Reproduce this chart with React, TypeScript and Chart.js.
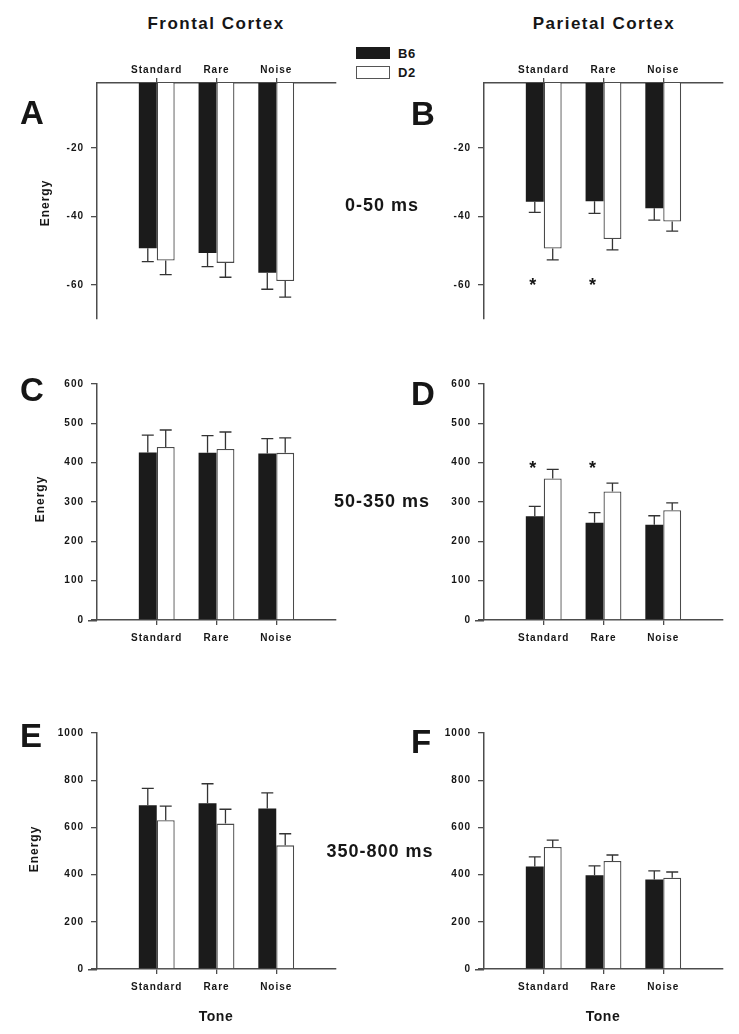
import React, { useEffect, useRef } from 'react';
import { Chart, registerables } from 'chart.js';

Chart.register(...registerables);

// ---------- data ----------
const categories = ['Standard', 'Rare', 'Noise'];
const seriesNames = ['B6', 'D2'];

// A: Frontal Cortex, 0-50 ms
const frontalEarlyB6 = [-49.3, -50.7, -56.5];
const frontalEarlyB6Err = [3.9, 4.0, 4.8];
const frontalEarlyD2 = [-52.9, -53.6, -58.9];
const frontalEarlyD2Err = [4.1, 4.2, 4.7];

// B: Parietal Cortex, 0-50 ms
const parietalEarlyB6 = [-35.7, -35.6, -37.6];
const parietalEarlyB6Err = [3.1, 3.5, 3.5];
const parietalEarlyD2 = [-49.4, -46.6, -41.5];
const parietalEarlyD2Err = [3.3, 3.2, 2.8];

// C: Frontal Cortex, 50-350 ms
const frontalMidB6 = [426, 425, 423];
const frontalMidB6Err = [44, 44, 38];
const frontalMidD2 = [440, 435, 425];
const frontalMidD2Err = [43, 43, 38];

// D: Parietal Cortex, 50-350 ms
const parietalMidB6 = [264, 247, 242];
const parietalMidB6Err = [25, 26, 23];
const parietalMidD2 = [360, 327, 279];
const parietalMidD2Err = [23, 21, 19];

// E: Frontal Cortex, 350-800 ms
const frontalLateB6 = [694, 702, 680];
const frontalLateB6Err = [71, 83, 66];
const frontalLateD2 = [630, 616, 524];
const frontalLateD2Err = [60, 61, 49];

// F: Parietal Cortex, 350-800 ms
const parietalLateB6 = [434, 397, 379];
const parietalLateB6Err = [41, 40, 37];
const parietalLateD2 = [517, 458, 387];
const parietalLateD2Err = [29, 25, 24];

const ticksEarly = [-60, -40, -20];
const ticksMid = [0, 100, 200, 300, 400, 500, 600];
const ticksLate = [0, 200, 400, 600, 800, 1000];

const starsB = [true, true, false];
const starLevelB = -59;
const starsD = [true, true, false];
const starLevelD = 396;

// ---------- styles ----------
const FONT = '"Liberation Sans", Arial, sans-serif';
const AXIS = '#4d4d4d';
const TEXT = '#161616';
const BLACK = '#1b1b1b';

const panelPlugin = {
  id: 'panelExtras',
  beforeDraw(chart: any) {
    (chart.ctx as any).letterSpacing = '1px';
  },
  afterDatasetsDraw(chart: any, _args: any, opts: any) {
    const ctx = chart.ctx;
    const ys = chart.scales.y;
    ctx.save();
    ctx.strokeStyle = '#333';
    ctx.lineWidth = 1.3;
    (opts.errors || []).forEach((errs: any[], di: number) => {
      const meta = chart.getDatasetMeta(di);
      const vals = chart.data.datasets[di].data;
      meta.data.forEach((el: any, i: number) => {
        const v = vals[i];
        const e = errs[i];
        if (v == null || e == null) return;
        const dir = v < 0 ? -1 : 1;
        const y1 = ys.getPixelForValue(v);
        const y2 = ys.getPixelForValue(v + dir * e);
        ctx.beginPath();
        ctx.moveTo(el.x, y1);
        ctx.lineTo(el.x, y2);
        ctx.moveTo(el.x - 6, y2);
        ctx.lineTo(el.x + 6, y2);
        ctx.stroke();
      });
    });
    if (opts.stars) {
      const meta = chart.getDatasetMeta(0);
      ctx.fillStyle = TEXT;
      ctx.font = `bold 18px ${FONT}`;
      ctx.textAlign = 'center';
      ctx.textBaseline = 'alphabetic';
      (ctx as any).letterSpacing = '0px';
      opts.stars.forEach((s: any, i: number) => {
        if (!s) return;
        const el = meta.data[i + 1];
        if (!el) return;
        ctx.fillText('*', el.x - 2, ys.getPixelForValue(opts.starLevel) + 10);
      });
    }
    ctx.restore();
  },
  afterDraw(chart: any, _args: any, opts: any) {
    if (!opts.extendAxis) return;
    const ctx = chart.ctx;
    const a = chart.chartArea;
    ctx.save();
    ctx.strokeStyle = AXIS;
    ctx.lineWidth = 1.5;
    ctx.beginPath();
    ctx.moveTo(a.left - 9, a.bottom + 0.75);
    ctx.lineTo(a.left, a.bottom + 0.75);
    ctx.stroke();
    ctx.restore();
  },
};

type PanelProps = {
  b6: number[];
  b6Err: number[];
  d2: number[];
  d2Err: number[];
  min: number;
  max: number;
  ticks: number[];
  axisTop: boolean;
  stars?: boolean[];
  starLevel?: number;
  left: number;
  top: number;
};

const YW = 60;
const XH = 30;
const AREA_W = 239;
const AREA_H = 239;

function Panel(p: PanelProps) {
  const ref = useRef<HTMLCanvasElement | null>(null);
  const padTop = p.axisTop ? 5 : 10;
  const w = YW + AREA_W + 12;
  const h = padTop + XH + AREA_H + 10;

  useEffect(() => {
    if (!ref.current) return;
    const pad = (arr: number[]) => [null, ...arr, null];
    const font = { family: FONT, size: 10, weight: 'bold' as const };
    const chart = new Chart(ref.current, {
      type: 'bar',
      data: {
        labels: ['', ...categories, ''],
        datasets: [
          {
            label: seriesNames[0],
            data: pad(p.b6) as any,
            backgroundColor: BLACK,
            borderColor: BLACK,
            borderWidth: 0,
            categoryPercentage: 0.6,
            barPercentage: 1,
          },
          {
            label: seriesNames[1],
            data: pad(p.d2) as any,
            backgroundColor: '#ffffff',
            borderColor: '#4a4a4a',
            borderWidth: 1.3,
            categoryPercentage: 0.6,
            barPercentage: 1,
          },
        ],
      },
      options: {
        animation: false,
        responsive: false,
        maintainAspectRatio: false,
        devicePixelRatio: 1,
        layout: { padding: { left: 0, right: 12, top: padTop, bottom: 10 } },
        plugins: {
          legend: { display: false },
          tooltip: { enabled: false },
          panelExtras: {
            errors: [pad(p.b6Err), pad(p.d2Err)],
            stars: p.stars,
            starLevel: p.starLevel,
            extendAxis: !p.axisTop,
          },
        } as any,
        scales: {
          x: {
            type: 'category',
            position: p.axisTop ? 'top' : 'bottom',
            offset: false,
            z: 1,
            grid: {
              offset: false,
              drawOnChartArea: false,
              drawTicks: true,
              tickLength: 5,
              lineWidth: 1.3,
              color: (c: any) => (c.index === 0 || c.index === 4 ? 'rgba(0,0,0,0)' : AXIS),
            },
            border: { display: true, color: AXIS, width: 1.5 },
            ticks: {
              autoSkip: false,
              maxRotation: 0,
              minRotation: 0,
              padding: p.axisTop ? 2 : 7.5,
              color: TEXT,
              font,
            },
            afterFit: (s: any) => {
              s.height = XH;
            },
          },
          y: {
            type: 'linear',
            min: p.min,
            max: p.max,
            afterBuildTicks: (s: any) => {
              s.ticks = p.ticks.map((v) => ({ value: v }));
            },
            grid: {
              drawOnChartArea: false,
              drawTicks: true,
              tickLength: 6,
              lineWidth: 1.3,
              color: AXIS,
            },
            border: { display: true, color: AXIS, width: 1.5 },
            ticks: {
              padding: 7,
              color: TEXT,
              font,
              callback: (v: any) => String(v),
            },
            afterFit: (s: any) => {
              s.width = YW;
            },
          },
        } as any,
      },
      plugins: [panelPlugin],
    });
    return () => chart.destroy();
  }, []);

  return (
    <canvas
      ref={ref}
      width={w}
      height={h}
      style={{ position: 'absolute', left: p.left - YW, top: p.top - padTop - (p.axisTop ? XH : 0), width: w, height: h }}
    />
  );
}

function T(props: { x: number; y: number; size: number; text: string; spacing?: number; rotate?: boolean }) {
  const { x, y, size, text, spacing = 0, rotate = false } = props;
  return (
    <div
      style={{
        position: 'absolute',
        left: x,
        top: y,
        transform: `translate(-50%, -50%)${rotate ? ' rotate(-90deg)' : ''}`,
        font: `bold ${size}px ${FONT}`,
        letterSpacing: spacing,
        whiteSpace: 'nowrap',
        lineHeight: 1,
        color: TEXT,
      }}
    >
      {text}
    </div>
  );
}

export default function App() {
  return (
    <div
      style={{
        position: 'absolute',
        left: 0,
        top: 0,
        width: 739,
        height: 1034,
        background: '#fff',
        overflow: 'hidden',
      }}
    >
      <Panel b6={frontalEarlyB6} b6Err={frontalEarlyB6Err} d2={frontalEarlyD2} d2Err={frontalEarlyD2Err}
        min={-70} max={-1} ticks={ticksEarly} axisTop left={97} top={83} />
      <Panel b6={parietalEarlyB6} b6Err={parietalEarlyB6Err} d2={parietalEarlyD2} d2Err={parietalEarlyD2Err}
        min={-70} max={-1} ticks={ticksEarly} axisTop stars={starsB} starLevel={starLevelB} left={484} top={83} />
      <Panel b6={frontalMidB6} b6Err={frontalMidB6Err} d2={frontalMidD2} d2Err={frontalMidD2Err}
        min={0} max={600} ticks={ticksMid} axisTop={false} left={97} top={381} />
      <Panel b6={parietalMidB6} b6Err={parietalMidB6Err} d2={parietalMidD2} d2Err={parietalMidD2Err}
        min={0} max={600} ticks={ticksMid} axisTop={false} stars={starsD} starLevel={starLevelD} left={484} top={381} />
      <Panel b6={frontalLateB6} b6Err={frontalLateB6Err} d2={frontalLateD2} d2Err={frontalLateD2Err}
        min={0} max={1000} ticks={ticksLate} axisTop={false} left={97} top={730} />
      <Panel b6={parietalLateB6} b6Err={parietalLateB6Err} d2={parietalLateD2} d2Err={parietalLateD2Err}
        min={0} max={1000} ticks={ticksLate} axisTop={false} left={484} top={730} />

      <T x={216} y={23} size={17} text="Frontal Cortex" spacing={1.5} />
      <T x={604} y={23} size={17} text="Parietal Cortex" spacing={1.5} />

      {/* legend */}
      <div style={{ position: 'absolute', left: 356, top: 47, width: 34, height: 12, background: BLACK }} />
      <div style={{ position: 'absolute', left: 356, top: 66, width: 32, height: 11, background: '#fff', border: '1px solid #555' }} />
      <div style={{ position: 'absolute', left: 398, top: 53, transform: 'translateY(-50%)', font: `bold 13px ${FONT}`, letterSpacing: 0.5, lineHeight: 1, color: TEXT }}>{seriesNames[0]}</div>
      <div style={{ position: 'absolute', left: 398, top: 72, transform: 'translateY(-50%)', font: `bold 13px ${FONT}`, letterSpacing: 0.5, lineHeight: 1, color: TEXT }}>{seriesNames[1]}</div>

      <T x={32} y={112} size={33} text="A" />
      <T x={423} y={113} size={33} text="B" />
      <T x={32} y={389} size={33} text="C" />
      <T x={423} y={393} size={33} text="D" />
      <T x={31} y={735} size={33} text="E" />
      <T x={421} y={741} size={33} text="F" />

      <T x={382} y={205} size={18} text="0-50 ms" spacing={1} />
      <T x={382} y={501} size={18} text="50-350 ms" spacing={1} />
      <T x={380} y={851} size={18} text="350-800 ms" spacing={1} />

      <T x={44.6} y={202.5} size={12} text="Energy" spacing={1} rotate />
      <T x={40.4} y={499} size={12} text="Energy" spacing={1} rotate />
      <T x={34} y={849} size={12} text="Energy" spacing={1} rotate />

      <T x={216} y={1015.5} size={14} text="Tone" spacing={0.5} />
      <T x={603} y={1015.5} size={14} text="Tone" spacing={0.5} />
    </div>
  );
}
